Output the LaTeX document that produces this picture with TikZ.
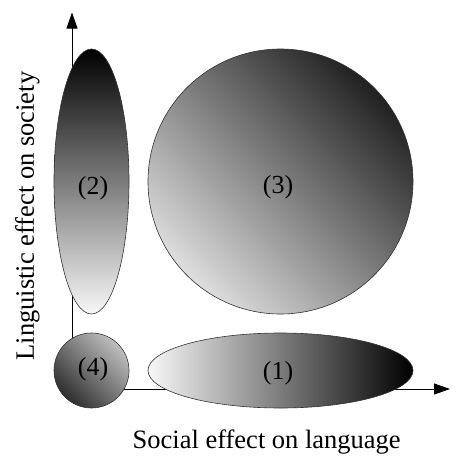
\documentclass[tikz,border=0pt]{standalone}
\usepackage{fontspec}
\setmainfont{Liberation Serif}
\usetikzlibrary{shapes.geometric, arrows.meta, positioning}

\begin{document}
\begin{tikzpicture}[
    x=1pt, y=-1pt,
    zone/.style={ellipse, draw=black!80, line width=0.6pt, inner sep=0pt},
    tag/.style={inner sep=0pt, font=\rmfamily\fontsize{26}{30}\selectfont},
    axislabel/.style={anchor=base, inner sep=0pt, font=\rmfamily\fontsize{26.5}{30}\selectfont},
    axisarrow/.style={-{Triangle[length=16pt, width=11pt]}, line width=0.9pt}
]
    \useasboundingbox (0,0) rectangle (468,469);

    % Axes
    \coordinate (origin) at (72,389);
    \coordinate (ytip) at (72,12.5);
    \coordinate (xtip) at (450,389);
    \draw[axisarrow] (origin) -- (ytip);
    \draw[axisarrow] (origin) -- (xtip);

    % Regions
    \node[zone, minimum width=265pt, minimum height=75pt,
          left color=white!97!black, right color=black] (q1) at (280.5,370.5) {};
    \node[zone, minimum width=75pt, minimum height=265pt,
          top color=black, bottom color=white!97!black] (q2) at (91.5,181.5) {};
    \node[zone, circle, minimum size=265pt,
          top color=black!87, bottom color=black!13, shading angle=-45] (q3) at (280.5,181.5) {};
    \node[zone, circle, minimum size=75pt,
          top color=black!25, bottom color=black!82, shading angle=-45] (q4) at (91.5,370.5) {};

    % Region numbers
    \node[tag] (t1) at (278,373) {(1)};
    \node[tag] (t2) at (93,188.5) {(2)};
    \node[tag] (t3) at (278,187) {(3)};
    \node[tag] (t4) at (93,369) {(4)};

    % Axis labels
    \node[axislabel] (xlabel) at (266.7,448) {Social effect on language};
    \node[axislabel, rotate=90] (ylabel) at (34,216) {Linguistic effect on society};
\end{tikzpicture}
\end{document}
